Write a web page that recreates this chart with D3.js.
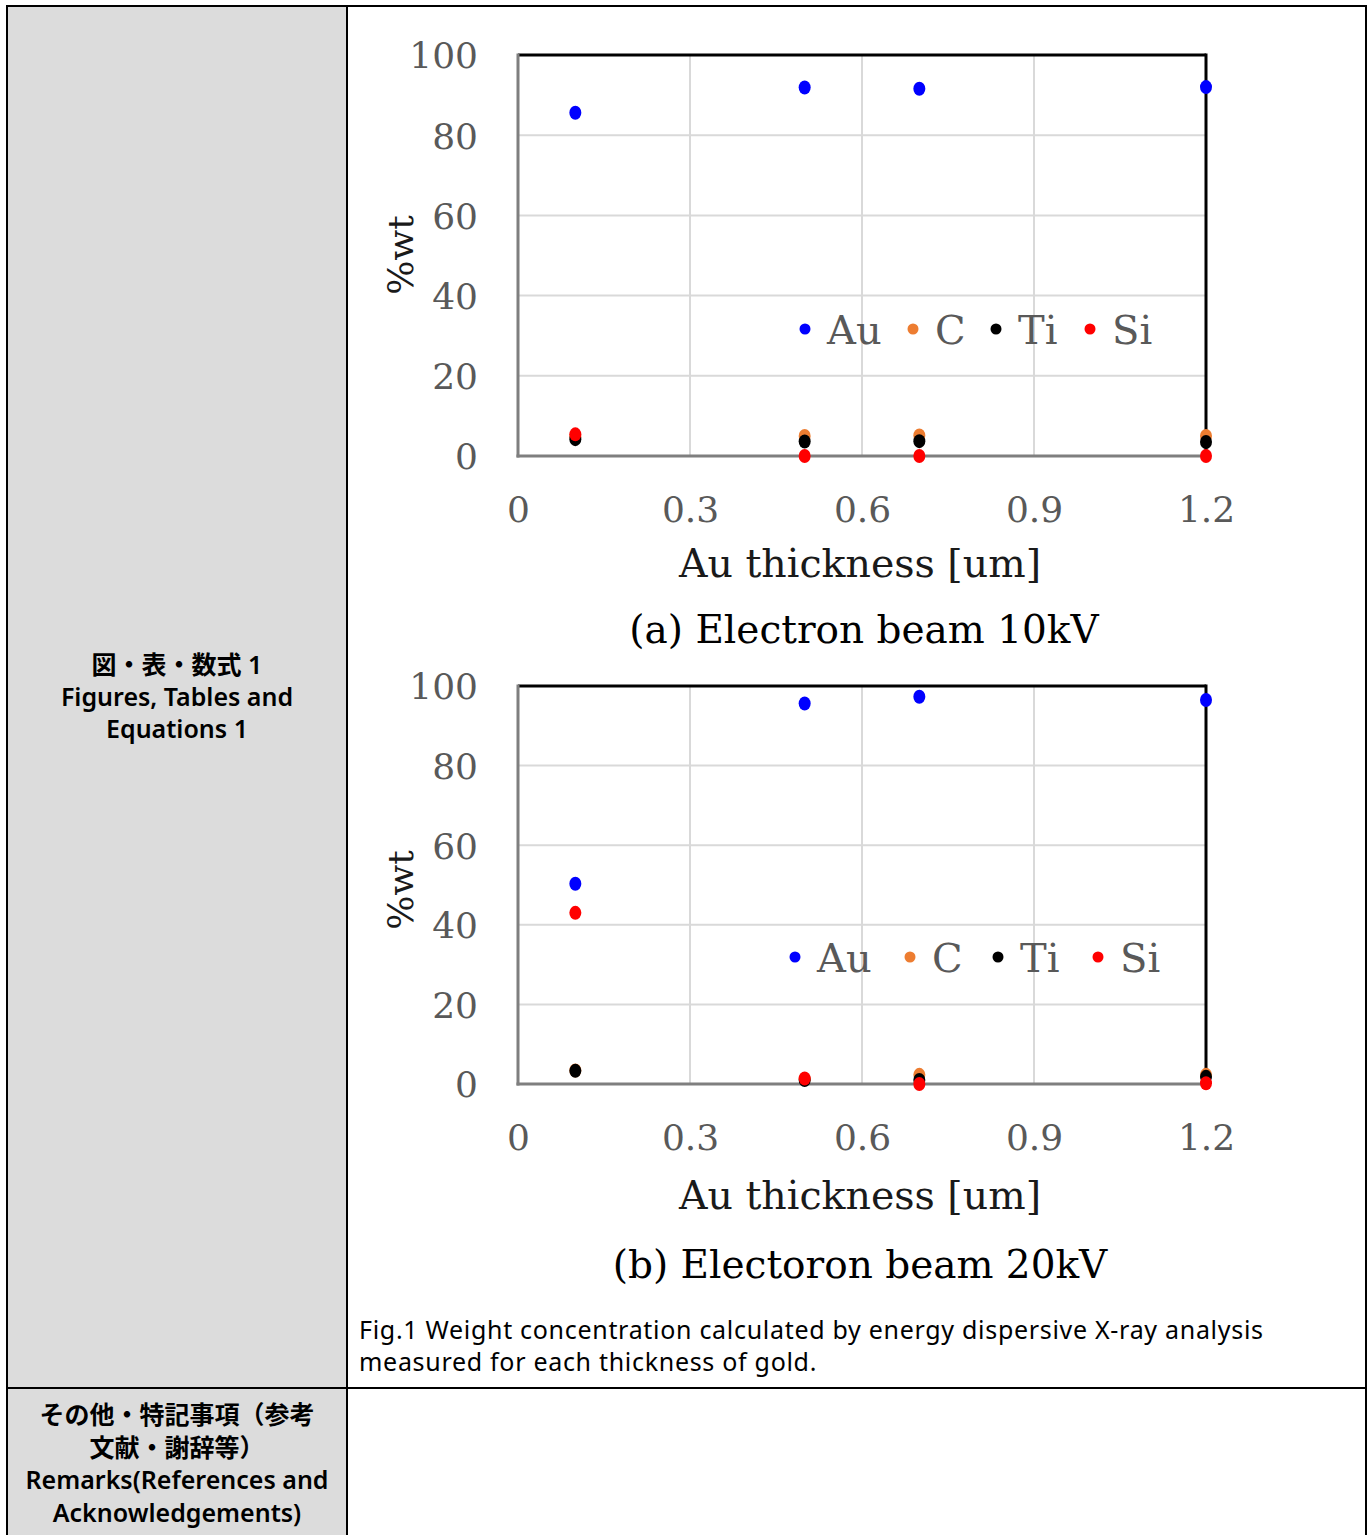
<!DOCTYPE html>
<html><head><meta charset="utf-8">
<script src="https://cdn.jsdelivr.net/npm/d3@7"></script>
<style>body{margin:0;background:#fff}svg{display:block}</style>
</head><body>
<svg id="c" width="1367" height="1535"></svg>
<script>
const thickness = [0.1, 0.5, 0.7, 1.2];
const seriesNames = ["Au", "C", "Ti", "Si"];
const seriesColors = ["#0000ff", "#ed7d31", "#000000", "#ff0000"];
// (a) 10kV
const au10 = [85.6, 91.9, 91.6, 92.0];
const c10  = [5.0, 5.0, 5.1, 5.0];
const ti10 = [4.2, 3.6, 3.7, 3.5];
const si10 = [5.4, 0.0, 0.0, 0.0];
// (b) 20kV
const au20 = [50.3, 95.6, 97.3, 96.5];
const c20  = [3.4, 1.2, 2.3, 2.3];
const ti20 = [3.3, 1.0, 1.0, 1.8];
const si20 = [43.0, 1.4, 0.0, 0.2];
const xTicks = [0, 0.3, 0.6, 0.9, 1.2];
const xTickLabels = ["0", "0.3", "0.6", "0.9", "1.2"];
const yTicks = [0, 20, 40, 60, 80, 100];
const xTitle = "Au thickness [um]";
const yTitle = "%wt";
const captions = ["(a) Electron beam 10kV", "(b) Electoron beam 20kV"];
const figCaption = ["Fig.1 Weight concentration calculated by energy dispersive X-ray analysis",
                    "measured for each thickness of gold."];
const leftLabel1 = ["図・表・数式 1", "Figures, Tables and", "Equations 1"];
const leftLabel2 = ["その他・特記事項（参考", "文献・謝辞等）", "Remarks(References and", "Acknowledgements)"];

const svg = d3.select("#c");
const serif = "'DejaVu Serif', 'Liberation Serif', serif";
const sans = "'Noto Sans', 'Noto Sans CJK JP', sans-serif";

// table
svg.append("rect").attr("x", 7).attr("y", 6).attr("width", 340).attr("height", 1529).attr("fill", "#dcdcdc");
const tbl = svg.append("g").attr("stroke", "#000").attr("stroke-width", 2).attr("fill", "none");
tbl.append("rect").attr("x", 7).attr("y", 6).attr("width", 1359).attr("height", 1532);
tbl.append("line").attr("x1", 347).attr("x2", 347).attr("y1", 6).attr("y2", 1535);
tbl.append("line").attr("x1", 7).attr("x2", 1366).attr("y1", 1388).attr("y2", 1388);

function block(lines, x, y0, lh, size, weight, anchor, ls) {
  const t = svg.append("text").attr("text-anchor", anchor)
    .attr("font-family", sans).attr("font-weight", weight).attr("font-size", size)
    .attr("letter-spacing", ls).attr("fill", "#000");
  t.selectAll("tspan").data(lines).join("tspan")
    .attr("x", x).attr("y", (d, i) => y0 + i * lh).text(d => d);
}
block(leftLabel1, 177, 674, 32, 25, 600, "middle", 0);
block(leftLabel2, 177, 1424, 32.5, 25, 600, "middle", 0);
block(figCaption, 359, 1339, 32, 25, 400, "start", 0.7);

function chart(cfg) {
  const g = svg.append("g");
  const x = d3.scaleLinear().domain([0, 1.2]).range([518, 1206]);
  const y = d3.scaleLinear().domain([0, 100]).range([cfg.y0, cfg.y100]);
  // grid
  g.append("g").selectAll("line").data(yTicks.slice(1, -1)).join("line")
    .attr("x1", x(0)).attr("x2", x(1.2)).attr("y1", d => y(d)).attr("y2", d => y(d))
    .attr("stroke", "#d9d9d9").attr("stroke-width", 2);
  g.append("g").selectAll("line").data(xTicks.slice(1, -1)).join("line")
    .attr("x1", d => x(d)).attr("x2", d => x(d)).attr("y1", y(0)).attr("y2", y(100))
    .attr("stroke", "#d9d9d9").attr("stroke-width", 2);
  // frame
  g.append("line").attr("x1", x(0)).attr("x2", x(1.2)).attr("y1", y(100)).attr("y2", y(100)).attr("stroke", "#000").attr("stroke-width", 3);
  g.append("line").attr("x1", x(1.2)).attr("x2", x(1.2)).attr("y1", y(100) - 1.5).attr("y2", y(0)).attr("stroke", "#000").attr("stroke-width", 3);
  g.append("line").attr("x1", x(0)).attr("x2", x(0)).attr("y1", y(100) - 1.5).attr("y2", y(0) + 1.5).attr("stroke", "#7f7f7f").attr("stroke-width", 3);
  g.append("line").attr("x1", x(0) - 1.5).attr("x2", x(1.2)).attr("y1", y(0)).attr("y2", y(0)).attr("stroke", "#7f7f7f").attr("stroke-width", 3);
  // axes
  const ya = g.append("g").attr("transform", `translate(${x(0) - 40},0)`)
    .call(d3.axisLeft(y).tickValues(yTicks).tickSize(0).tickPadding(0));
  ya.select(".domain").remove();
  ya.selectAll("text").attr("font-family", serif).attr("font-size", 36).attr("fill", "#595959").attr("dy", "0.36em");
  const xa = g.append("g").attr("transform", `translate(0,${y(0) + 40})`)
    .call(d3.axisBottom(x).tickValues(xTicks).tickFormat((d, i) => xTickLabels[i]).tickSize(0).tickPadding(0));
  xa.select(".domain").remove();
  xa.selectAll("text").attr("font-family", serif).attr("font-size", 36).attr("fill", "#595959").attr("dy", "0.71em");
  // titles
  g.append("text").attr("x", 860).attr("y", cfg.titleY).attr("text-anchor", "middle")
    .attr("font-family", serif).attr("font-size", 39.5).attr("fill", "#1a1a1a").text(xTitle);
  g.append("text").attr("transform", `translate(413,${cfg.yTitleY}) rotate(-90)`).attr("text-anchor", "middle")
    .attr("font-family", serif).attr("font-size", 36).attr("fill", "#1a1a1a").text(yTitle);
  g.append("text").attr("x", cfg.capX).attr("y", cfg.capY).attr("text-anchor", "middle")
    .attr("font-family", serif).attr("font-size", 39).attr("fill", "#000").text(cfg.caption);
  // points
  cfg.series.forEach((vals, si) => {
    g.append("g").selectAll("ellipse").data(vals).join("ellipse")
      .attr("cx", (d, i) => x(thickness[i])).attr("cy", d => y(d))
      .attr("rx", 6).attr("ry", 7).attr("fill", seriesColors[si]);
  });
  // legend
  const lg = g.append("g");
  seriesNames.forEach((n, i) => {
    lg.append("circle").attr("cx", cfg.legDot[i]).attr("cy", cfg.legY).attr("r", 5.5).attr("fill", seriesColors[i]);
    lg.append("text").attr("x", cfg.legDot[i] + 22).attr("y", cfg.legY + 15)
      .attr("font-family", serif).attr("font-size", 40).attr("fill", "#595959").text(n);
  });
}

chart({y0: 456, y100: 55, titleY: 577, yTitleY: 255, capX: 864, capY: 643, caption: captions[0],
       series: [au10, c10, ti10, si10], legY: 329, legDot: [805, 913, 996, 1090]});
chart({y0: 1084, y100: 686, titleY: 1209, yTitleY: 890, capX: 860, capY: 1278, caption: captions[1],
       series: [au20, c20, ti20, si20], legY: 957, legDot: [795, 910, 998, 1098]});
</script>
</body></html>
